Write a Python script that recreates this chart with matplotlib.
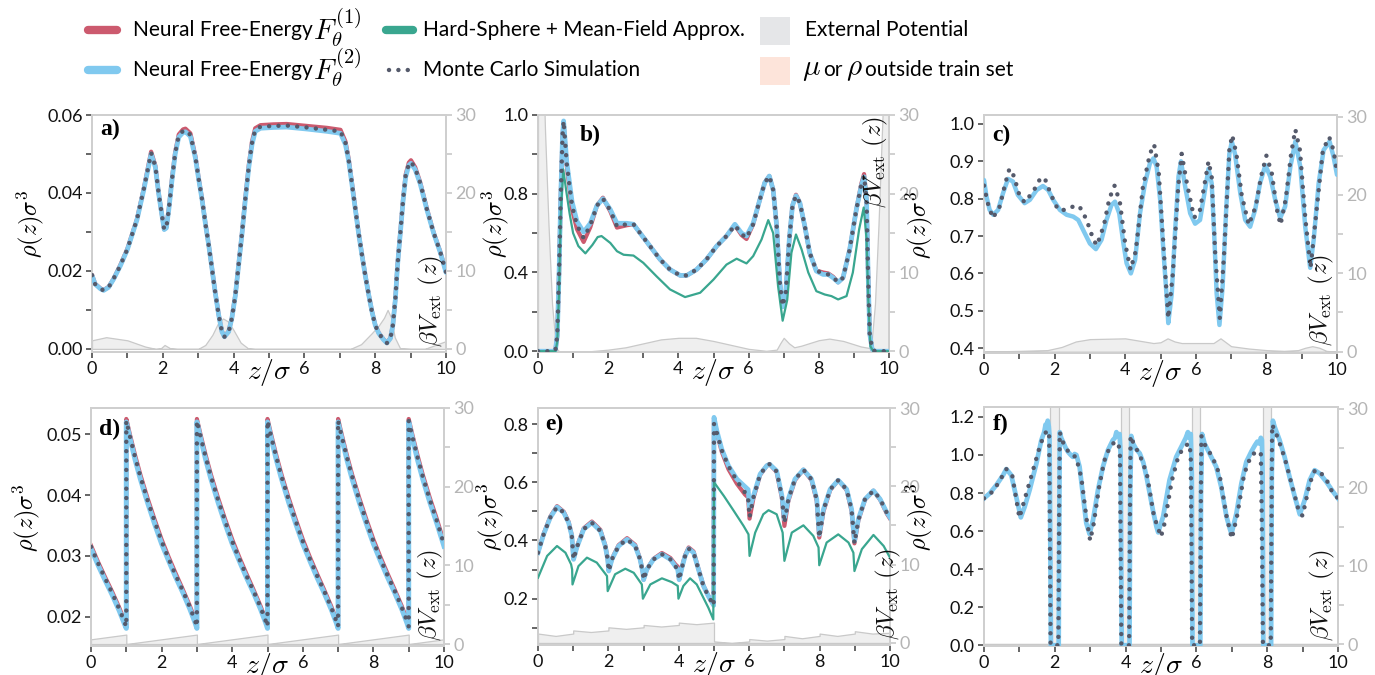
import matplotlib
matplotlib.use('Agg')
import matplotlib.pyplot as plt
from matplotlib.lines import Line2D
from matplotlib.patches import Rectangle

plt.rcParams['font.family'] = ['Lato', 'DejaVu Sans']
plt.rcParams['mathtext.fontset'] = 'cm'

# ---------------- data: panel a ----------------
z_a = [0.0, 0.09, 0.24, 0.33, 0.47, 0.61, 0.8, 1.0, 1.27, 1.46,
       1.58, 1.67, 1.79, 1.88, 1.98, 2.04, 2.1, 2.17, 2.26, 2.35,
       2.45, 2.57, 2.64, 2.78, 2.92, 3.01, 3.11, 3.2, 3.3, 3.39,
       3.48, 3.58, 3.67, 3.74, 3.86, 3.95, 4.05, 4.14, 4.24, 4.33,
       4.43, 4.52, 4.61, 4.76, 5.13, 5.5, 6.07, 6.64, 7.02, 7.16,
       7.25, 7.34, 7.44, 7.53, 7.63, 7.72, 7.82, 7.91, 8.0, 8.1,
       8.24, 8.33, 8.43, 8.5, 8.57, 8.63, 8.71, 8.79, 8.86, 8.95,
       9.01, 9.13, 9.27, 9.46, 9.65, 9.84, 10.0]
f2_a = [0.0188, 0.0166, 0.0154, 0.0150, 0.0158, 0.0179, 0.0213, 0.0255, 0.0331, 0.0407,
        0.0460, 0.0500, 0.0466, 0.0400, 0.0340, 0.0306, 0.0310, 0.0357, 0.0433, 0.0500,
        0.0543, 0.0555, 0.0557, 0.0545, 0.0490, 0.0437, 0.0382, 0.0323, 0.0264, 0.0205,
        0.0145, 0.0086, 0.0044, 0.0031, 0.0044, 0.0078, 0.0137, 0.0213, 0.0297, 0.0382,
        0.0466, 0.0524, 0.0558, 0.0566, 0.0568, 0.0569, 0.0564, 0.0558, 0.0553, 0.0524,
        0.0483, 0.0424, 0.0357, 0.0297, 0.0238, 0.0188, 0.0137, 0.0095, 0.0061, 0.0040,
        0.0023, 0.0015, 0.0027, 0.0061, 0.0128, 0.0213, 0.0297, 0.0382, 0.0441, 0.0471,
        0.0476, 0.0460, 0.0424, 0.0357, 0.0297, 0.0247, 0.0196]
f1_a = [0.0190, 0.0167, 0.0155, 0.0151, 0.0159, 0.0180, 0.0215, 0.0257, 0.0333, 0.0410,
        0.0465, 0.0506, 0.0470, 0.0402, 0.0341, 0.0307, 0.0312, 0.0360, 0.0437, 0.0505,
        0.0550, 0.0563, 0.0565, 0.0553, 0.0495, 0.0440, 0.0384, 0.0325, 0.0265, 0.0206,
        0.0146, 0.0087, 0.0045, 0.0032, 0.0045, 0.0079, 0.0139, 0.0216, 0.0300, 0.0386,
        0.0472, 0.0532, 0.0566, 0.0574, 0.0576, 0.0577, 0.0572, 0.0567, 0.0562, 0.0532,
        0.0488, 0.0428, 0.0360, 0.0299, 0.0240, 0.0189, 0.0138, 0.0096, 0.0062, 0.0041,
        0.0024, 0.0016, 0.0028, 0.0062, 0.0130, 0.0216, 0.0300, 0.0386, 0.0447, 0.0478,
        0.0484, 0.0466, 0.0428, 0.0360, 0.0299, 0.0249, 0.0198]
mc_a = [0.0189, 0.0166, 0.0154, 0.0150, 0.0158, 0.0180, 0.0214, 0.0256, 0.0332, 0.0408,
        0.0462, 0.0503, 0.0468, 0.0401, 0.0340, 0.0306, 0.0311, 0.0358, 0.0435, 0.0502,
        0.0547, 0.0559, 0.0561, 0.0549, 0.0492, 0.0438, 0.0383, 0.0324, 0.0264, 0.0205,
        0.0145, 0.0086, 0.0044, 0.0031, 0.0044, 0.0078, 0.0138, 0.0214, 0.0298, 0.0384,
        0.0469, 0.0528, 0.0562, 0.0570, 0.0572, 0.0573, 0.0568, 0.0562, 0.0558, 0.0528,
        0.0485, 0.0426, 0.0358, 0.0298, 0.0239, 0.0188, 0.0137, 0.0095, 0.0061, 0.0040,
        0.0023, 0.0015, 0.0027, 0.0061, 0.0129, 0.0214, 0.0298, 0.0384, 0.0444, 0.0474,
        0.0480, 0.0463, 0.0426, 0.0358, 0.0298, 0.0248, 0.0197]
zv_a = [0, 0.4, 1.0, 1.5, 1.8, 1.95, 2.05, 2.2, 2.4, 3.0,
        3.2, 3.4, 3.55, 3.7, 3.85, 4.0, 4.2, 4.4, 4.6, 7.3,
        7.6, 7.9, 8.1, 8.25, 8.35, 8.45, 8.55, 8.7, 9.0, 9.4,
        9.7, 10]
v_a = [1.1, 1.5, 1.1, 0.3, 0.0, 0.1, 0.5, 0.1, 0.0, 0.0,
       0.5, 1.8, 3.2, 3.9, 3.5, 2.4, 0.8, 0.1, 0.0, 0.0,
       0.6, 2.0, 3.0, 4.0, 5.0, 4.0, 1.5, 0.1, 0.0, 0.0,
       0.5, 1.0]

# ---------------- data: panel b ----------------
z_b = [0.0, 0.45, 0.5, 0.55, 0.6, 0.65, 0.7, 0.73, 0.82, 0.97,
       1.11, 1.3, 1.49, 1.68, 1.85, 2.06, 2.25, 2.53, 2.72, 2.91,
       3.19, 3.48, 3.76, 4.05, 4.24, 4.52, 4.8, 5.09, 5.37, 5.61,
       5.8, 5.94, 6.13, 6.32, 6.46, 6.59, 6.7, 6.8, 6.89, 6.97,
       7.06, 7.16, 7.25, 7.35, 7.46, 7.6, 7.74, 7.93, 8.12, 8.27,
       8.41, 8.55, 8.69, 8.88, 9.07, 9.21, 9.29, 9.36, 9.4, 9.45,
       9.52, 9.6, 10.0]
f2_b = [0.0, 0.0, 0.01, 0.08, 0.4, 0.8, 1.1, 1.17, 0.96, 0.76,
        0.66, 0.605, 0.65, 0.74, 0.775, 0.72, 0.65, 0.65, 0.645, 0.60,
        0.534, 0.466, 0.415, 0.385, 0.385, 0.415, 0.466, 0.534, 0.585, 0.645,
        0.60, 0.585, 0.65, 0.77, 0.856, 0.89, 0.82, 0.636, 0.35, 0.225,
        0.30, 0.57, 0.74, 0.79, 0.754, 0.636, 0.50, 0.407, 0.39, 0.39,
        0.373, 0.35, 0.373, 0.517, 0.72, 0.84, 0.886, 0.77, 0.43, 0.09,
        0.01, 0.0, 0.0]
f1_b = [0.0, 0.0, 0.01, 0.08, 0.4, 0.8, 1.1, 1.16, 0.94, 0.72,
        0.62, 0.555, 0.63, 0.74, 0.78, 0.71, 0.628, 0.64, 0.645, 0.60,
        0.534, 0.466, 0.415, 0.385, 0.385, 0.415, 0.466, 0.534, 0.585, 0.64,
        0.59, 0.57, 0.645, 0.77, 0.856, 0.89, 0.82, 0.636, 0.35, 0.225,
        0.30, 0.57, 0.74, 0.795, 0.754, 0.636, 0.50, 0.41, 0.40, 0.395,
        0.378, 0.35, 0.373, 0.517, 0.72, 0.85, 0.90, 0.77, 0.43, 0.09,
        0.01, 0.0, 0.0]
mc_b = [0.0, 0.0, 0.01, 0.08, 0.4, 0.8, 1.1, 1.17, 0.95, 0.74,
        0.64, 0.575, 0.64, 0.74, 0.775, 0.715, 0.635, 0.645, 0.645, 0.60,
        0.534, 0.466, 0.415, 0.385, 0.385, 0.415, 0.466, 0.534, 0.585, 0.64,
        0.595, 0.575, 0.645, 0.77, 0.856, 0.89, 0.82, 0.636, 0.35, 0.23,
        0.30, 0.57, 0.74, 0.79, 0.754, 0.636, 0.50, 0.41, 0.395, 0.39,
        0.375, 0.35, 0.373, 0.517, 0.72, 0.845, 0.89, 0.77, 0.43, 0.09,
        0.01, 0.0, 0.0]
zh_b = [0.0, 0.5, 0.55, 0.6, 0.65, 0.72, 0.8, 0.9, 1.0, 1.15,
        1.35, 1.55, 1.7, 1.81, 2.06, 2.25, 2.44, 2.72, 3.0, 3.38,
        3.76, 4.19, 4.62, 5.0, 5.37, 5.66, 5.94, 6.13, 6.37, 6.56,
        6.7, 6.84, 6.97, 7.1, 7.22, 7.35, 7.51, 7.7, 7.93, 8.17,
        8.36, 8.55, 8.79, 8.97, 9.15, 9.28, 9.36, 9.41, 9.47, 9.55,
        10.0]
hs_b = [0.0, 0.0, 0.05, 0.3, 0.7, 0.924, 0.82, 0.70, 0.60, 0.534,
        0.497, 0.54, 0.58, 0.585, 0.55, 0.508, 0.49, 0.486, 0.449, 0.38,
        0.314, 0.275, 0.297, 0.364, 0.44, 0.47, 0.446, 0.483, 0.568, 0.666,
        0.60, 0.33, 0.155, 0.26, 0.50, 0.593, 0.517, 0.40, 0.305, 0.288,
        0.28, 0.263, 0.28, 0.40, 0.62, 0.73, 0.57, 0.26, 0.025, 0.0,
        0.0]
zv_b = [0.0, 0.1, 0.15, 0.2, 0.3, 0.4, 0.5, 0.55, 0.6, 1.5,
        2.0, 2.5, 3.0, 3.5, 4.0, 4.5, 5.0, 5.5, 6.0, 6.5,
        6.8, 6.9, 7.0, 7.15, 7.3, 7.5, 8.0, 8.3, 8.7, 9.2,
        9.45, 9.5, 9.6, 9.7, 9.8, 9.85, 9.9, 10.0]
v_b = [60, 45, 36, 28, 16, 6, 1.0, 0.2, 0.0, 0.0,
       0.2, 0.5, 1.0, 1.5, 1.7, 1.7, 1.3, 0.8, 0.3, 0.05,
       0.2, 1.0, 1.7, 1.0, 0.5, 0.7, 1.4, 1.6, 1.3, 0.6,
       0.4, 1.0, 6.0, 16, 28, 34, 42, 60]

# ---------------- data: panel c ----------------
z_c = [0.0, 0.07, 0.16, 0.26, 0.4, 0.54, 0.68, 0.82, 0.96, 1.15,
       1.3, 1.49, 1.67, 1.82, 1.96, 2.15, 2.34, 2.53, 2.67, 2.81,
       3.0, 3.17, 3.33, 3.47, 3.61, 3.71, 3.83, 3.95, 4.04, 4.16,
       4.28, 4.42, 4.56, 4.7, 4.8, 4.89, 4.99, 5.08, 5.18, 5.22,
       5.32, 5.41, 5.51, 5.58, 5.7, 5.84, 5.98, 6.12, 6.26, 6.36,
       6.45, 6.52, 6.59, 6.67, 6.76, 6.86, 6.95, 7.02, 7.11, 7.26,
       7.4, 7.54, 7.68, 7.82, 7.97, 8.11, 8.25, 8.39, 8.53, 8.68,
       8.82, 8.96, 9.1, 9.24, 9.34, 9.48, 9.62, 9.79, 9.9, 10.0]
f2_c = [0.85, 0.806, 0.77, 0.757, 0.77, 0.815, 0.853, 0.846, 0.81, 0.788,
        0.797, 0.823, 0.834, 0.823, 0.797, 0.77, 0.757, 0.752, 0.743, 0.716,
        0.68, 0.665, 0.69, 0.743, 0.783, 0.792, 0.761, 0.68, 0.627, 0.60,
        0.636, 0.761, 0.841, 0.895, 0.908, 0.886, 0.797, 0.663, 0.53, 0.467,
        0.547, 0.708, 0.859, 0.90, 0.832, 0.761, 0.733, 0.743, 0.823, 0.88,
        0.841, 0.708, 0.547, 0.462, 0.565, 0.77, 0.92, 0.953, 0.92, 0.815,
        0.743, 0.725, 0.77, 0.841, 0.89, 0.859, 0.797, 0.748, 0.779, 0.886,
        0.953, 0.886, 0.725, 0.615, 0.69, 0.841, 0.93, 0.953, 0.913, 0.864]
zm_c = [0.0, 0.1, 0.25, 0.45, 0.6, 0.72, 0.85, 1.0, 1.15, 1.4,
        1.6, 1.72, 1.9, 2.1, 2.3, 2.55, 2.7, 2.9, 3.1, 3.2,
        3.4, 3.55, 3.7, 3.85, 4.0, 4.15, 4.3, 4.5, 4.7, 4.82,
        4.95, 5.1, 5.22, 5.35, 5.5, 5.6, 5.75, 5.95, 6.1, 6.25,
        6.36, 6.45, 6.55, 6.68, 6.8, 6.95, 7.03, 7.15, 7.3, 7.5,
        7.7, 7.85, 8.0, 8.15, 8.3, 8.4, 8.55, 8.7, 8.82, 8.95,
        9.1, 9.25, 9.4, 9.6, 9.78, 9.9, 10.0]
mc_c = [0.835, 0.79, 0.748, 0.78, 0.84, 0.88, 0.86, 0.81, 0.79, 0.82,
        0.855, 0.855, 0.81, 0.77, 0.77, 0.78, 0.78, 0.745, 0.69, 0.675,
        0.73, 0.80, 0.835, 0.79, 0.68, 0.61, 0.66, 0.83, 0.92, 0.945,
        0.87, 0.65, 0.48, 0.60, 0.83, 0.92, 0.84, 0.75, 0.76, 0.84,
        0.90, 0.86, 0.65, 0.48, 0.65, 0.93, 0.97, 0.92, 0.81, 0.73,
        0.78, 0.86, 0.915, 0.87, 0.77, 0.73, 0.80, 0.92, 0.985, 0.93,
        0.75, 0.615, 0.75, 0.93, 0.965, 0.93, 0.87]
zv_c = [0.0, 1.0, 1.8, 2.2, 2.6, 3.0, 3.5, 4.0, 4.4, 4.8,
        5.0, 5.2, 5.4, 5.6, 6.0, 6.5, 6.6, 6.7, 6.85, 7.0,
        7.5, 8.0, 8.5, 8.9, 9.1, 9.3, 9.5, 9.7, 10.0]
v_c = [0.0, 0.1, 0.2, 0.6, 1.3, 1.6, 1.65, 1.7, 1.4, 1.1,
       1.2, 1.7, 1.3, 1.1, 1.1, 1.1, 1.4, 1.7, 1.2, 0.7,
       0.4, 0.2, 0.1, 0.2, 0.5, 0.7, 0.5, 0.1, 0.0]

# ---------------- data: panel d ----------------
z_d = [0.0, 0.2, 0.4, 0.6, 0.8, 0.95, 1.0,
       1.0, 1.1, 1.25, 1.4, 1.6, 1.8, 2.0, 2.2, 2.4, 2.6, 2.8, 2.95, 3.0,
       3.0, 3.1, 3.25, 3.4, 3.6, 3.8, 4.0, 4.2, 4.4, 4.6, 4.8, 4.95, 5.0,
       5.0, 5.1, 5.25, 5.4, 5.6, 5.8, 6.0, 6.2, 6.4, 6.6, 6.8, 6.95, 7.0,
       7.0, 7.1, 7.25, 7.4, 7.6, 7.8, 8.0, 8.2, 8.4, 8.6, 8.8, 8.95, 9.0,
       9.0, 9.1, 9.25, 9.4, 9.6, 9.8, 10.0]
f2_d = [0.0312, 0.0285, 0.0260, 0.0236, 0.0210, 0.0188, 0.0181,
        0.0520, 0.0494, 0.0458, 0.0426, 0.0388, 0.0353, 0.0320, 0.0292, 0.0265, 0.0240, 0.0213, 0.0190, 0.0181,
        0.0520, 0.0494, 0.0458, 0.0426, 0.0388, 0.0353, 0.0320, 0.0292, 0.0265, 0.0240, 0.0213, 0.0190, 0.0181,
        0.0520, 0.0494, 0.0458, 0.0426, 0.0388, 0.0353, 0.0320, 0.0292, 0.0265, 0.0240, 0.0213, 0.0190, 0.0181,
        0.0520, 0.0494, 0.0458, 0.0426, 0.0388, 0.0353, 0.0320, 0.0292, 0.0265, 0.0240, 0.0213, 0.0190, 0.0181,
        0.0520, 0.0494, 0.0458, 0.0426, 0.0388, 0.0353, 0.0316]
f1_d = [0.0317, 0.0290, 0.0265, 0.0241, 0.0215, 0.0193, 0.0186,
        0.0525, 0.0500, 0.0465, 0.0433, 0.0395, 0.0360, 0.0327, 0.0298, 0.0271, 0.0245, 0.0218, 0.0195, 0.0186,
        0.0525, 0.0500, 0.0465, 0.0433, 0.0395, 0.0360, 0.0327, 0.0298, 0.0271, 0.0245, 0.0218, 0.0195, 0.0186,
        0.0525, 0.0500, 0.0465, 0.0433, 0.0395, 0.0360, 0.0327, 0.0298, 0.0271, 0.0245, 0.0218, 0.0195, 0.0186,
        0.0525, 0.0500, 0.0465, 0.0433, 0.0395, 0.0360, 0.0327, 0.0298, 0.0271, 0.0245, 0.0218, 0.0195, 0.0186,
        0.0525, 0.0500, 0.0465, 0.0433, 0.0395, 0.0360, 0.0322]
mc_d = [0.0315, 0.0288, 0.0263, 0.0239, 0.0213, 0.0191, 0.0184,
        0.0522, 0.0497, 0.0462, 0.0430, 0.0392, 0.0357, 0.0324, 0.0295, 0.0268, 0.0243, 0.0216, 0.0193, 0.0184,
        0.0522, 0.0497, 0.0462, 0.0430, 0.0392, 0.0357, 0.0324, 0.0295, 0.0268, 0.0243, 0.0216, 0.0193, 0.0184,
        0.0522, 0.0497, 0.0462, 0.0430, 0.0392, 0.0357, 0.0324, 0.0295, 0.0268, 0.0243, 0.0216, 0.0193, 0.0184,
        0.0522, 0.0497, 0.0462, 0.0430, 0.0392, 0.0357, 0.0324, 0.0295, 0.0268, 0.0243, 0.0216, 0.0193, 0.0184,
        0.0522, 0.0497, 0.0462, 0.0430, 0.0392, 0.0357, 0.0319]
zv_d = [0.0, 1.0, 1.0, 3.0, 3.0, 5.0, 5.0, 7.0, 7.0, 9.0, 9.0, 10.0]
v_d = [0.6, 1.2, 0.0, 1.2, 0.0, 1.2, 0.0, 1.2, 0.0, 1.2, 0.0, 0.6]

# ---------------- data: panel e ----------------
z_e = [0.0, 0.16, 0.35, 0.54, 0.73, 0.87, 0.96, 1.01, 1.1, 1.3,
       1.53, 1.77, 1.91, 1.98, 2.01, 2.1, 2.29, 2.53, 2.76, 2.9,
       2.98, 3.0, 3.09, 3.28, 3.52, 3.76, 3.9, 3.97, 4.01, 4.09,
       4.18, 4.28, 4.42, 4.56, 4.7, 4.84, 4.99, 5.0, 5.08, 5.22,
       5.41, 5.65, 5.88, 5.97, 6.01, 6.12, 6.31, 6.5, 6.58, 6.78,
       6.93, 7.0, 7.11, 7.3, 7.54, 7.77, 7.92, 7.99, 8.11, 8.3,
       8.53, 8.77, 8.91, 8.99, 9.1, 9.29, 9.53, 9.72, 9.91, 10.0]
f2_e = [0.358, 0.421, 0.479, 0.515, 0.496, 0.461, 0.416, 0.335, 0.375, 0.439,
        0.461, 0.433, 0.381, 0.335, 0.295, 0.335, 0.381, 0.404, 0.381, 0.335,
        0.289, 0.265, 0.30, 0.335, 0.353, 0.335, 0.312, 0.30, 0.265, 0.307,
        0.347, 0.372, 0.358, 0.30, 0.244, 0.209, 0.177, 0.823, 0.777, 0.714,
        0.657, 0.611, 0.585, 0.575, 0.51, 0.553, 0.628, 0.657, 0.662, 0.639,
        0.553, 0.473, 0.542, 0.611, 0.643, 0.611, 0.542, 0.421, 0.507, 0.576,
        0.607, 0.576, 0.507, 0.398, 0.473, 0.542, 0.571, 0.542, 0.496, 0.479]
f1_e = [0.36, 0.423, 0.482, 0.518, 0.499, 0.464, 0.418, 0.337, 0.377, 0.442,
        0.465, 0.437, 0.384, 0.337, 0.297, 0.337, 0.384, 0.408, 0.385, 0.337,
        0.29, 0.266, 0.30, 0.337, 0.357, 0.34, 0.318, 0.31, 0.268, 0.31,
        0.35, 0.376, 0.362, 0.302, 0.245, 0.21, 0.178, 0.82, 0.77, 0.705,
        0.645, 0.595, 0.558, 0.548, 0.475, 0.545, 0.625, 0.657, 0.662, 0.635,
        0.545, 0.45, 0.535, 0.607, 0.643, 0.607, 0.535, 0.41, 0.50, 0.573,
        0.607, 0.573, 0.50, 0.39, 0.468, 0.54, 0.571, 0.54, 0.492, 0.475]
mc_e = [0.358, 0.421, 0.479, 0.515, 0.496, 0.461, 0.416, 0.335, 0.375, 0.439,
        0.461, 0.433, 0.381, 0.335, 0.295, 0.335, 0.381, 0.404, 0.381, 0.335,
        0.289, 0.265, 0.30, 0.335, 0.353, 0.335, 0.312, 0.30, 0.265, 0.307,
        0.347, 0.372, 0.358, 0.30, 0.244, 0.209, 0.177, 0.80, 0.77, 0.71,
        0.655, 0.605, 0.565, 0.545, 0.48, 0.548, 0.627, 0.657, 0.662, 0.637,
        0.55, 0.46, 0.54, 0.61, 0.643, 0.61, 0.54, 0.41, 0.505, 0.575,
        0.607, 0.575, 0.505, 0.39, 0.47, 0.542, 0.571, 0.542, 0.495, 0.477]
zh_e = [0.0, 0.26, 0.54, 0.78, 0.94, 0.97, 0.98, 1.15, 1.39, 1.67,
        1.96, 1.98, 2.19, 2.48, 2.72, 2.95, 2.98, 3.19, 3.52, 3.8,
        3.97, 3.99, 4.13, 4.32, 4.51, 4.7, 4.84, 4.98, 5.0, 5.28,
        5.56, 5.84, 5.98, 6.01, 6.17, 6.4, 6.55, 6.78, 6.95, 7.0,
        7.21, 7.54, 7.82, 7.97, 7.99, 8.2, 8.53, 8.82, 8.96, 8.99,
        9.2, 9.53, 9.82, 10.0]
hs_e = [0.272, 0.347, 0.381, 0.358, 0.318, 0.30, 0.249, 0.312, 0.341, 0.324,
        0.278, 0.226, 0.284, 0.303, 0.289, 0.249, 0.20, 0.249, 0.27, 0.257,
        0.244, 0.20, 0.244, 0.27, 0.249, 0.203, 0.169, 0.129, 0.60, 0.553,
        0.502, 0.45, 0.421, 0.347, 0.427, 0.49, 0.504, 0.49, 0.427, 0.33,
        0.427, 0.452, 0.416, 0.376, 0.315, 0.393, 0.421, 0.393, 0.358, 0.295,
        0.37, 0.419, 0.381, 0.341]
zv_e = [0.0, 0.5, 1.0, 1.0, 1.5, 2.0, 2.0, 2.5, 3.0, 3.0,
        3.5, 4.0, 4.0, 4.5, 5.0, 5.0, 5.5, 6.0, 6.0, 6.5,
        7.0, 7.0, 7.5, 8.0, 8.0, 8.5, 9.0, 9.0, 9.5, 10.0]
v_e = [1.2, 0.9, 1.2, 1.6, 1.4, 1.6, 2.0, 1.8, 2.0, 2.3,
       2.1, 2.3, 2.6, 2.4, 2.6, 0.2, 0.0, 0.2, 0.5, 0.3,
       0.5, 0.9, 0.6, 0.9, 1.2, 0.9, 1.2, 1.5, 1.2, 1.3]

# ---------------- data: panel f ----------------
z_f = [0.0, 0.16, 0.35, 0.54, 0.63, 0.77, 0.91, 1.04, 1.15, 1.29,
       1.48, 1.62, 1.7, 1.74, 1.77, 1.8, 1.83, 1.85, 1.875, 1.89,
       2.11, 2.125, 2.14, 2.18, 2.23, 2.3, 2.37, 2.45, 2.51, 2.56,
       2.61, 2.7, 2.8, 2.89, 2.98, 3.08, 3.22, 3.36, 3.5, 3.64,
       3.7, 3.74, 3.78, 3.83, 3.86, 3.89,
       4.11, 4.13, 4.16, 4.21, 4.3, 4.4, 4.5, 4.59, 4.77, 4.87,
       4.92, 5.06, 5.24, 5.43, 5.62, 5.7, 5.76, 5.8, 5.84, 5.87, 5.89,
       6.11, 6.13, 6.16, 6.23, 6.37, 6.56, 6.7, 6.85, 6.94, 6.99,
       7.13, 7.27, 7.41, 7.55, 7.65, 7.72, 7.78, 7.82, 7.85, 7.87, 7.89,
       8.11, 8.13, 8.16, 8.21, 8.35, 8.49, 8.63, 8.78, 8.92, 9.06,
       9.2, 9.34, 9.48, 9.67, 9.86, 10.0]
f2_f = [0.772, 0.798, 0.842, 0.894, 0.926, 0.894, 0.78, 0.672, 0.728, 0.816,
        0.955, 1.078, 1.12, 1.16, 1.13, 1.18, 1.15, 1.1, 0.5, 0.0,
        0.0, 0.6, 1.12, 1.09, 1.07, 1.04, 1.017, 1.0, 0.99, 1.005,
        1.0, 0.938, 0.78, 0.641, 0.585, 0.658, 0.816, 0.938, 1.025, 1.078,
        1.09, 1.12, 1.1, 1.11, 1.0, 0.0,
        0.0, 0.8, 1.1, 1.06, 1.03, 1.008, 0.96, 0.886, 0.711, 0.624,
        0.593, 0.676, 0.868, 0.99, 1.06, 1.09, 1.12, 1.09, 1.11, 0.9, 0.0,
        0.0, 0.8, 1.11, 1.06, 1.008, 0.938, 0.833, 0.676, 0.615, 0.585,
        0.693, 0.85, 0.964, 1.017, 1.05, 1.07, 1.06, 1.09, 1.08, 0.9, 0.0,
        0.0, 0.9, 1.18, 1.148, 1.078, 0.99, 0.886, 0.78, 0.688, 0.763,
        0.868, 0.92, 0.903, 0.859, 0.807, 0.772]
zm_f = [0.0, 0.2, 0.4, 0.63, 0.8, 1.0, 1.2, 1.4, 1.6, 1.75,
        1.8, 1.84, 1.86, 1.88,
        2.1, 2.12, 2.14, 2.2, 2.3, 2.45, 2.6, 2.75, 2.9, 3.0,
        3.1, 3.25, 3.4, 3.55, 3.7, 3.8, 3.84, 3.86, 3.88,
        4.1, 4.12, 4.14, 4.25, 4.4, 4.6, 4.8, 5.0, 5.1, 5.3,
        5.5, 5.7, 5.8, 5.84, 5.86, 5.88,
        6.1, 6.12, 6.14, 6.25, 6.45, 6.65, 6.85, 7.0, 7.15, 7.35,
        7.55, 7.75, 7.82, 7.85, 7.88,
        8.1, 8.12, 8.14, 8.3, 8.5, 8.7, 8.9, 9.0, 9.2, 9.35,
        9.5, 9.7, 9.85, 10.0]
mc_f = [0.772, 0.80, 0.85, 0.926, 0.89, 0.67, 0.80, 0.93, 1.06, 1.12,
        1.13, 1.1, 0.6, 0.0,
        0.0, 0.6, 1.12, 1.08, 1.04, 1.0, 0.99, 0.88, 0.66, 0.55,
        0.64, 0.83, 0.97, 1.04, 1.07, 1.06, 1.0, 0.5, 0.0,
        0.0, 0.6, 1.1, 1.05, 1.0, 0.9, 0.68, 0.57, 0.64, 0.86,
        1.0, 1.05, 1.06, 1.0, 0.5, 0.0,
        0.0, 0.6, 1.1, 1.05, 0.99, 0.9, 0.68, 0.56, 0.68, 0.9,
        1.0, 1.02, 1.01, 0.6, 0.0,
        0.0, 0.6, 1.16, 1.09, 0.98, 0.84, 0.70, 0.68, 0.85, 0.92,
        0.91, 0.86, 0.80, 0.772]
zv_f = [0.0, 1.875, 1.875, 2.11, 2.11, 3.87, 3.87, 4.105, 4.105, 5.87,
        5.87, 6.105, 6.105, 7.87, 7.87, 8.10, 8.10, 10.0]
v_f = [0, 0, 100, 100, 0, 0, 100, 100, 0, 0,
       100, 100, 0, 0, 100, 100, 0, 0]

# ---------------- tick labels ----------------
xtick_labels = ['0', '', '2', '', '4', '', '6', '', '8', '', '10']
rtick_vals = [0, 5, 10, 15, 20, 25, 30]
rtick_labels = ['0', '', '10', '', '20', '', '30']

RED = '#cc5a6e'
BLUE = '#80c9ef'
GREEN = '#39a68f'
MCC = '#555a6b'
POT_FACE = '#efefef'
POT_EDGE = '#c9c9c9'
SPINE = '#cfcfcf'

fig = plt.figure(figsize=(13.75, 6.75), dpi=100)
W, H = 1375.0, 675.0


def make_axes(left_px, top_px, bottom_px, width_px=353):
    return fig.add_axes([left_px / W, 1 - bottom_px / H, width_px / W, (bottom_px - top_px) / H])


def panel(ax, letter, letter_xy, ylim, yticks, ylabels, ylim2, zv, v, label_pos, ylab_x):
    ax2 = ax.twinx()
    ax.set_zorder(ax2.get_zorder() + 1)
    ax.patch.set_visible(False)
    ax2.fill_between(zv, 0, v, facecolor=POT_FACE, edgecolor=POT_EDGE, linewidth=0.9)
    ax.set_xlim(0, 10)
    ax.set_ylim(*ylim)
    ax2.set_ylim(*ylim2)
    ax.set_xticks(range(11))
    ax.set_xticklabels(xtick_labels)
    ax.set_yticks(yticks)
    ax.set_yticklabels(ylabels)
    ax2.set_yticks(rtick_vals)
    ax2.set_yticklabels(rtick_labels)
    for a_ in (ax, ax2):
        for s in a_.spines.values():
            s.set_color(SPINE)
            s.set_linewidth(1.4)
    ax.tick_params(axis='both', direction='out', length=4.5, width=1.1, color='#3c3c3c',
                   labelsize=13, pad=2, labelcolor='#111111')
    ax2.tick_params(axis='y', direction='out', length=4.5, width=1.1, color='#c4c4c4',
                    labelsize=13, pad=2, labelcolor='#b5b5b5')
    ax.set_ylabel(r'$\rho(z)\sigma^3$', fontsize=17.5)
    ax.yaxis.set_label_coords(ylab_x, 0.54)
    ax.text(0.5, -0.022, r'$z/\sigma$', transform=ax.transAxes, ha='center', va='top', fontsize=20)
    ax.text(letter_xy[0], letter_xy[1], letter, transform=ax.transAxes, ha='left', va='top',
            fontsize=17, fontweight='bold', family='Liberation Serif')
    lx, ly, lva = label_pos
    ax.text(lx, ly, r'$\beta V_{\mathrm{ext}}\ (z)$', transform=ax.transAxes, rotation=90,
            ha='center', va=lva, fontsize=18, color='#111111', zorder=10)
    return ax2


def dotted(ax, z, y):
    ax.plot(z, y, color=MCC, lw=3.2, linestyle=(0, (0.01, 2.1)), dash_capstyle='round', zorder=5)


# ----- a -----
ax = make_axes(92, 115, 352, 354)
panel(ax, 'a)', (0.022, 0.985), (-0.0008, 0.06), [0, 0.01, 0.02, 0.03, 0.04, 0.05, 0.06],
      ['0.00', '', '0.02', '', '0.04', '', '0.06'], (-0.4, 30), zv_a, v_a, (0.958, 0.02, 'bottom'), -0.13)
ax.plot(z_a, f1_a, color=RED, lw=3.0, solid_capstyle='round', zorder=2)
ax.plot(z_a, f2_a, color=BLUE, lw=3.4, solid_capstyle='round', zorder=3)
dotted(ax, z_a, mc_a)

# ----- b -----
ax = make_axes(538, 115, 352, 351)
panel(ax, 'b)', (0.12, 0.96), (-0.004, 1.2), [0, 0.2, 0.4, 0.6, 0.8, 1.0, 1.2],
      ['0.0', '', '0.4', '', '0.8', '', '1.0'], (-0.1, 30), zv_b, v_b, (0.962, 0.995, 'top'), -0.078)
ax.plot(z_b, f1_b, color=RED, lw=3.0, solid_capstyle='round', zorder=2)
ax.plot(z_b, f2_b, color=BLUE, lw=3.4, solid_capstyle='round', zorder=3)
ax.plot(zh_b, hs_b, color=GREEN, lw=1.6, zorder=4)
dotted(ax, z_b, mc_b)

# ----- c -----
ax = make_axes(984, 115, 353, 353)
panel(ax, 'c)', (0.022, 0.96), (0.387, 1.024), [0.4, 0.5, 0.6, 0.7, 0.8, 0.9, 1.0],
      ['0.4', '0.5', '0.6', '0.7', '0.8', '0.9', '1.0'], (-0.17, 30.2), zv_c, v_c, (0.955, 0.03, 'bottom'), -0.138)
ax.plot(z_c, f2_c, color=BLUE, lw=3.2, solid_capstyle='round', zorder=3)
dotted(ax, zm_c, mc_c)

# ----- d -----
ax = make_axes(91, 408, 646, 353)
panel(ax, 'd)', (0.022, 0.955), (0.0152, 0.0543), [0.02, 0.03, 0.04, 0.05],
      ['0.02', '0.03', '0.04', '0.05'], (-0.25, 29.9), zv_d, v_d, (0.962, 0.02, 'bottom'), -0.138)
ax.plot(z_d, f1_d, color=RED, lw=3.0, zorder=2)
ax.plot(z_d, f2_d, color=BLUE, lw=3.6, zorder=3)
dotted(ax, z_d, mc_d)

# ----- e -----
ax = make_axes(538, 408, 645, 352)
panel(ax, 'e)', (0.02, 0.975), (0.041, 0.855), [0.1, 0.2, 0.3, 0.4, 0.5, 0.6, 0.7, 0.8],
      ['', '0.2', '', '0.4', '', '0.6', '', '0.8'], (-0.26, 30.0), zv_e, v_e, (0.995, 0.02, 'bottom'), -0.09)
ax.plot(z_e, f1_e, color=RED, lw=3.0, zorder=2)
ax.plot(z_e, f2_e, color=BLUE, lw=3.4, zorder=3)
ax.plot(zh_e, hs_e, color=GREEN, lw=1.6, zorder=4)
dotted(ax, z_e, mc_e)

# ----- f -----
ax = make_axes(984, 407, 646, 354)
panel(ax, 'f)', (0.025, 0.97), (-0.004, 1.252), [0, 0.2, 0.4, 0.6, 0.8, 1.0, 1.2],
      ['0.0', '0.2', '0.4', '0.6', '0.8', '1.0', '1.2'], (-0.2, 30.2), zv_f, v_f, (0.955, 0.02, 'bottom'), -0.138)
ax.plot(z_f, f2_f, color=BLUE, lw=3.4, zorder=3)
dotted(ax, zm_f, mc_f)

# ----- legend (manual) -----
def fx(px):
    return px / W


def fy(py):
    return 1 - py / H


r1, r2 = 30, 70
for (x0, x1, y, c) in [(88, 117, r1, RED), (88, 117, r2, BLUE), (386, 413, r1, GREEN)]:
    fig.add_artist(Line2D([fx(x0), fx(x1)], [fy(y), fy(y)], color=c, lw=6,
                          solid_capstyle='round', transform=fig.transFigure))
fig.add_artist(Line2D([fx(389), fx(411)], [fy(r2), fy(r2)], color=MCC, lw=3.2,
                      linestyle=(0, (0.01, 2.1)), dash_capstyle='round', transform=fig.transFigure))
fig.add_artist(Rectangle((fx(760), fy(45)), 30 / W, 28 / H, facecolor='#e5e6e8', edgecolor='none',
                         transform=fig.transFigure))
fig.add_artist(Rectangle((fx(760), fy(85)), 30 / W, 28 / H, facecolor='#fde4da', edgecolor='none',
                         transform=fig.transFigure))
LFS = 15
MFS = 21
fig.text(fx(133), fy(r1), 'Neural Free-Energy', va='center', ha='left', fontsize=LFS)
fig.text(fx(313), fy(r1) + 0.004, r'$F_\theta^{(1)}$', va='center', ha='left', fontsize=MFS)
fig.text(fx(133), fy(r2), 'Neural Free-Energy', va='center', ha='left', fontsize=LFS)
fig.text(fx(313), fy(r2) + 0.004, r'$F_\theta^{(2)}$', va='center', ha='left', fontsize=MFS)
fig.text(fx(423), fy(r1), 'Hard-Sphere + Mean-Field Approx.', va='center', ha='left', fontsize=LFS)
fig.text(fx(423), fy(r2), 'Monte Carlo Simulation', va='center', ha='left', fontsize=LFS)
fig.text(fx(805), fy(r1), 'External Potential', va='center', ha='left', fontsize=LFS)
fig.text(fx(802), fy(r2), r'$\mu$', va='center', ha='left', fontsize=MFS)
fig.text(fx(823), fy(r2), 'or', va='center', ha='left', fontsize=LFS)
fig.text(fx(846), fy(r2), r'$\rho$', va='center', ha='left', fontsize=MFS)
fig.text(fx(865), fy(r2), 'outside train set', va='center', ha='left', fontsize=LFS)

fig.savefig('out.png', dpi=100)
